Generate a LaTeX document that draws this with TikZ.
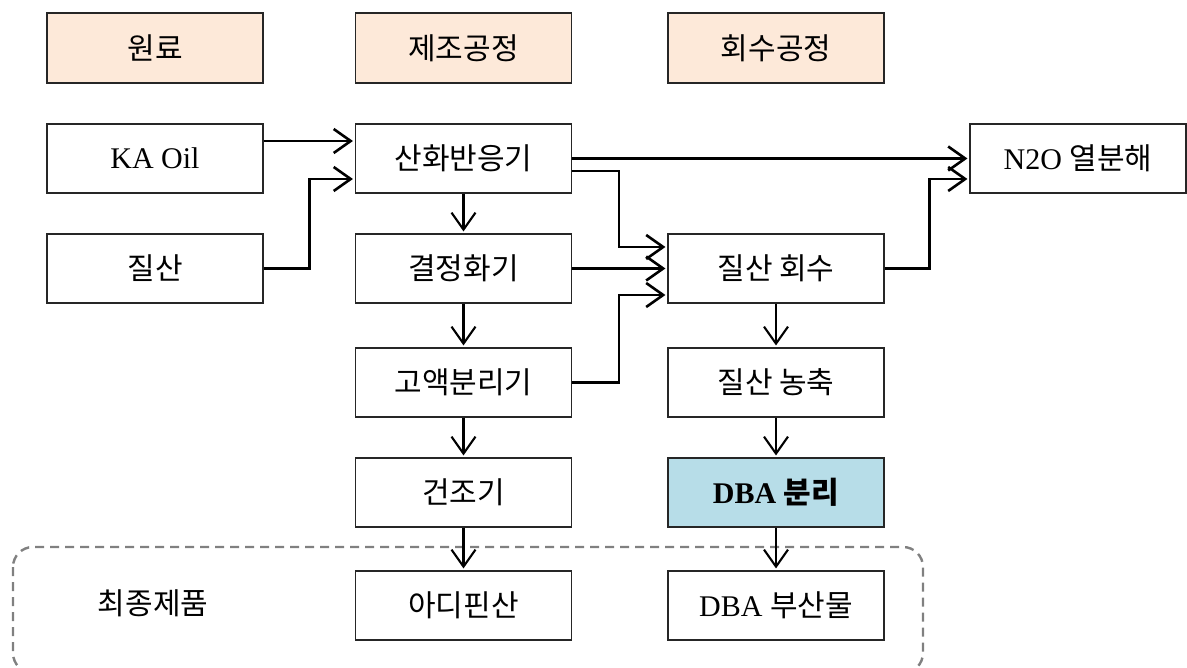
\documentclass[tikz,border=0pt]{standalone}
\usepackage{fontspec}
\setmainfont{Liberation Serif}
\newfontfamily\kr{Noto Sans CJK KR}
\usetikzlibrary{arrows.meta}

\definecolor{headfill}{HTML}{FDE9D9}
\definecolor{dbafill}{HTML}{B7DDE8}
\definecolor{framegray}{HTML}{808080}

\begin{document}
\begin{tikzpicture}[x=1pt,y=-1pt,
  box/.style={draw=black!85, line width=1.1pt, minimum width=216pt,
    minimum height=69pt, inner sep=0pt, font=\fontsize{30}{32}\selectfont},
  headbox/.style={box, fill=headfill, minimum height=70pt},
  flow/.style={line width=2.6pt,
    -{Straight Barb[length=17pt,width=24pt]}, shorten >=2pt},
  drop/.style={line width=2.1pt,
    -{Straight Barb[length=17pt,width=24pt]}, shorten >=2pt},
  groupframe/.style={draw=framegray, line width=2.4pt,
    dash pattern=on 9pt off 6pt, rounded corners=20pt}]

% canvas
\useasboundingbox (0,0) rectangle (1187,668);

% product group frame (its lower edge runs just past the page)
\draw[groupframe] (13,547) rectangle (923,673);
\node[font=\fontsize{30}{32}\selectfont\kr] (final) at (153,603) {최종제품};

% column headings
\node[headbox] (h1) at (155,48)   {\kr 원료};
\node[headbox] (h2) at (463.5,48) {\kr 제조공정};
\node[headbox] (h3) at (776,48)   {\kr 회수공정};

% raw materials
\node[box] (ka)  at (155,158.5) {KA Oil};
\node[box] (nit) at (155,268.5) {\kr 질산};

% production line
\node[box] (ox)  at (463.5,158.5) {\kr 산화반응기};
\node[box] (cry) at (463.5,268.5) {\kr 결정화기};
\node[box] (sep) at (463.5,382.5) {\kr 고액분리기};
\node[box] (dry) at (463.5,492.5) {\kr 건조기};
\node[box] (adi) at (463.5,605.5) {\kr 아디핀산};

% recovery line
\node[box] (rec)  at (776,268.5) {\kr 질산 회수};
\node[box] (conc) at (776,382.5) {\kr 질산 농축};
\node[box, fill=dbafill] (dba) at (776,492.5) {\bfseries DBA {\kr\bfseries 분리}};
\node[box] (byp)  at (776,605.5) {DBA {\kr 부산물}};

% off-gas treatment
\node[box] (n2o) at (1078,158.5) {N2O {\kr 열분해}};

% feeds into the reactor
\draw[flow] ([yshift=17.5pt]ka.east) -- ([yshift=17.5pt]ox.west);
\draw[flow] (nit.east) -- ++(46pt,0pt) |- ([yshift=-20.5pt]ox.west);

% reactor outlets
\draw[flow] (ox.east) -- (n2o.west);
\draw[flow] ([yshift=-12.5pt]ox.east) -- ++(47pt,0pt) |- ([yshift=21.5pt]rec.west);

% streams to nitric acid recovery
\draw[flow] (cry.east) -- (rec.west);
\draw[flow] (sep.east) -- ++(47pt,0pt) |- ([yshift=-26.5pt]rec.west);
\draw[flow] (rec.east) -- ++(45pt,0pt) |- ([yshift=-20.5pt]n2o.west);

% main product train
\draw[drop] (ox)  -- (cry);
\draw[drop] (cry) -- (sep);
\draw[drop] (sep) -- (dry);
\draw[drop] (dry) -- (adi);

% recovery train
\draw[drop] (rec)  -- (conc);
\draw[drop] (conc) -- (dba);
\draw[drop] (dba)  -- (byp);
\end{tikzpicture}
\end{document}
